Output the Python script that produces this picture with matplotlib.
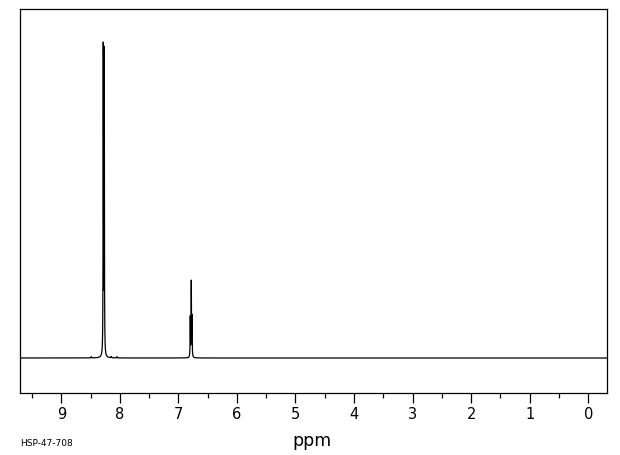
import numpy as np
import matplotlib
matplotlib.use("Agg")
import matplotlib.pyplot as plt
from matplotlib.ticker import MultipleLocator

# 1H NMR peak list: shift (ppm), height (% of tallest), half width (ppm)
peak_shifts = [8.283, 8.266, 6.797, 6.780, 6.767, 8.49, 8.146, 8.05]
peak_heights = [96.5, 95.2, 12.5, 23.6, 12.5, 0.4, 0.4, 0.4]
peak_widths = [0.003, 0.003, 0.003, 0.003, 0.003, 0.004, 0.004, 0.004]

tick_values = [9, 8, 7, 6, 5, 4, 3, 2, 1, 0]
x_label = "ppm"
sample_id = "HSP-47-708"

ppm = np.linspace(9.70, -0.314, 20000)
intensity = np.zeros_like(ppm)
for shift, height, width in zip(peak_shifts, peak_heights, peak_widths):
    intensity += height * width**2 / ((ppm - shift) ** 2 + width**2)

fig = plt.figure(figsize=(6.2, 4.55), dpi=100)
ax = fig.add_axes([0.0327, 0.1363, 0.9458, 0.8433])
ax.plot(ppm, intensity, color="black", linewidth=0.9)

ax.set_xlim(9.70, -0.314)
ax.set_ylim(-11.0, 109.65)

for side in ax.spines.values():
    side.set_linewidth(0.9)

ax.set_yticks([])
ax.set_xticks(tick_values)
ax.set_xticklabels([str(t) for t in tick_values])
ax.xaxis.set_minor_locator(MultipleLocator(0.5))
ax.tick_params(axis="x", which="major", direction="out", length=7.2, width=0.9,
               labelsize=10.5, pad=3)
ax.tick_params(axis="x", which="minor", direction="out", length=3.6, width=0.9)

fig.text(0.503, 0.031, x_label, ha="center", va="center", fontsize=12.5)
fig.text(0.032, 0.026, sample_id, ha="left", va="center", fontsize=6.5)

fig.savefig("out.png", dpi=100)
plt.close(fig)
